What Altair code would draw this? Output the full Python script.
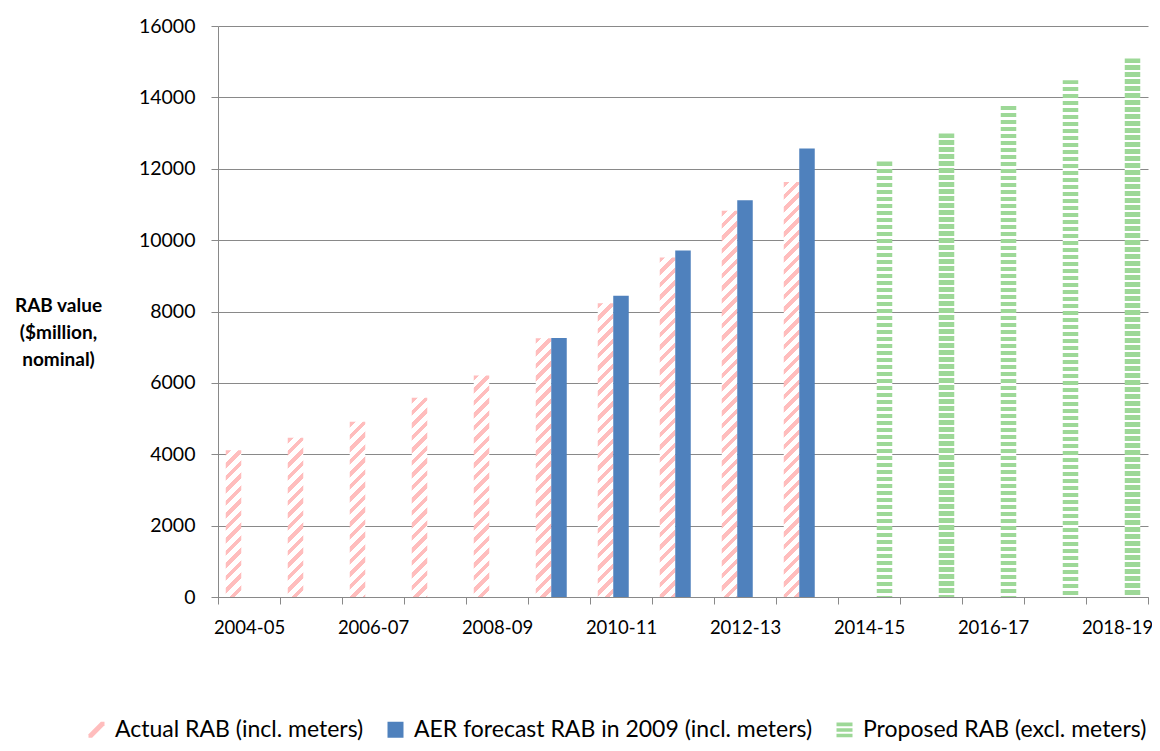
import json
import altair as alt
import pandas as pd

# ---------------- data ----------------
years = ['2004-05', '2005-06', '2006-07', '2007-08', '2008-09', '2009-10', '2010-11',
         '2011-12', '2012-13', '2013-14', '2014-15', '2015-16', '2016-17', '2017-18', '2018-19']
series_names = ['Actual RAB (incl. meters)',
                'AER forecast RAB in 2009 (incl. meters)',
                'Proposed RAB (excl. meters)']
actual = [4110, 4460, 4910, 5580, 6210, 7250, 8230, 9510, 10820, 11630,
          None, None, None, None, None]
aer = [None, None, None, None, None, 7260, 8440, 9710, 11120, 12570,
       None, None, None, None, None]
proposed = [None, None, None, None, None, None, None, None, None, None,
            12200, 12990, 13760, 14480, 15090]
tick_labels = years[::2]
y_ticks = [0, 2000, 4000, 6000, 8000, 10000, 12000, 14000, 16000]

# ---------------- style ----------------
PINK = '#FFBDBD'
BLUE = '#4F81BD'
GREEN = '#9DD897'
WHITE = '#FFFFFF'
GRID = '#898989'
FONT = 'Lato'
W, H = 930, 571
Y_MAX = 16000
BAR_W = W / len(years) / 4.0

rows = []
for s, vals in zip(series_names, [actual, aer, proposed]):
    for yr, v in zip(years, vals):
        if v is not None:
            rows.append({'year': yr, 'series': s, 'value': v})
df = pd.DataFrame(rows)


def diag_grad(v):
    """upward diagonal hatch as a hard-stop gradient (objectBoundingBox)."""
    h = v / Y_MAX * H
    w = BAR_W
    k = (w + h) / (w * w + h * h)
    n = (w + h) / 12.5
    stops = []
    i = 0
    while i / n < 1:
        a = round(i / n, 5)
        b = round(min((i + 0.45) / n, 1), 5)
        c = round(min((i + 1) / n, 1), 5)
        stops += [{'offset': a, 'color': PINK}, {'offset': b, 'color': PINK},
                  {'offset': b, 'color': WHITE}, {'offset': c, 'color': WHITE}]
        i += 1
    return {'gradient': 'linear', 'x1': 0, 'y1': 0,
            'x2': round(w * k, 5), 'y2': round(h * k, 5), 'stops': stops}


def hstripe_grad(v):
    """horizontal stripes as a hard-stop vertical gradient."""
    h = v / Y_MAX * H
    n = h / 7.0
    stops = []
    i = 0
    while i / n < 1:
        a = round(i / n, 5)
        b = round(min((i + 0.6) / n, 1), 5)
        c = round(min((i + 1) / n, 1), 5)
        stops += [{'offset': a, 'color': GREEN}, {'offset': b, 'color': GREEN},
                  {'offset': b, 'color': WHITE}, {'offset': c, 'color': WHITE}]
        i += 1
    return {'gradient': 'linear', 'x1': 0, 'y1': 0, 'x2': 0, 'y2': 1, 'stops': stops}


conds = []
for r in rows:
    if r['series'] == series_names[0]:
        g = diag_grad(r['value'])
    elif r['series'] == series_names[2]:
        g = hstripe_grad(r['value'])
    else:
        continue
    conds.append({'test': "datum.series === '%s' && datum.year === '%s'" % (r['series'], r['year']),
                  'value': g})

DIAG_PATH = 'M-1,1L-1,0.55L0.55,-1L1,-1L1,-0.55L-0.55,1Z'
HSTRIPE_PATH = 'M-1,-0.9H1V-0.45H-1Z M-1,-0.2H1V0.25H-1Z M-1,0.5H1V0.95H-1Z'

base = alt.Chart(df)

bars = base.mark_bar().encode(
    x=alt.X('year:N', sort=years,
            scale=alt.Scale(domain=years, paddingInner=0, paddingOuter=0),
            axis=alt.Axis(title=None, labelAngle=0, grid=False,
                          labelExpr="indexof(%s, datum.value) >= 0 ? datum.label : ''" % json.dumps(tick_labels),
                          tickBand='extent', tickSize=7, tickColor=GRID, domainColor=GRID,
                          labelPadding=14, labelFont=FONT, labelFontSize=18.5,
                          labelColor='#000000', labelOverlap=False)),
    xOffset=alt.XOffset('series:N',
                        scale=alt.Scale(domain=series_names, paddingInner=0, paddingOuter=0.5)),
    y=alt.Y('value:Q', scale=alt.Scale(domain=[0, Y_MAX], nice=False),
            axis=alt.Axis(values=y_ticks, format='d', grid=True, gridColor=GRID, gridWidth=1,
                          domainColor=GRID, tickColor=GRID, tickSize=7, labelPadding=16,
                          labelFont=FONT, labelFontSize=19.5, labelColor='#000000',
                          title=['RAB value', '($million,', 'nominal)'],
                          titleAngle=0, titleAlign='center', titleBaseline='middle',
                          titleX=-160, titleY=279, titleFont=FONT, titleFontSize=19,
                          titleFontWeight='bold', titleColor='#000000', titleLineHeight=27)),
    fill={'condition': conds, 'value': BLUE},
)

legend_cfg = dict(orient='none', legendX=-133, legendY=692, direction='horizontal',
                  title=None, labelFont=FONT, labelFontSize=23, labelColor='#000000',
                  symbolSize=256, symbolStrokeWidth=0, labelOffset=7, columnPadding=20,
                  labelLimit=800)

legend_layer = base.mark_point(filled=True, opacity=1, size=256).encode(
    color=alt.Color('series:N', scale=alt.Scale(domain=series_names, range=[PINK, BLUE, GREEN]),
                    legend=alt.Legend(**legend_cfg)),
    shape=alt.Shape('series:N', scale=alt.Scale(domain=series_names,
                                                range=[DIAG_PATH, 'square', HSTRIPE_PATH]),
                    legend=alt.Legend(**legend_cfg)),
).transform_filter('false')

chart = alt.layer(bars, legend_layer).properties(
    width=W, height=H,
    autosize=alt.AutoSizeParams(type='none'),
    padding={'left': 210, 'top': 18, 'right': 4, 'bottom': 146},
    background='white',
).configure_view(strokeWidth=0)

chart.save('out.html', embed_options={'renderer': 'svg', 'actions': False})
